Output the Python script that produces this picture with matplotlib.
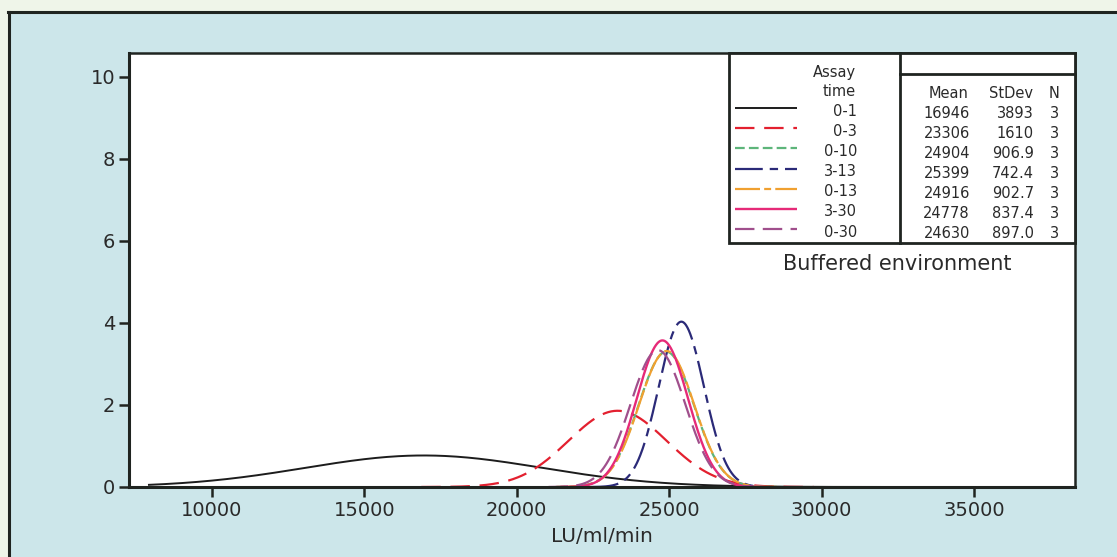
import numpy as np
import matplotlib
matplotlib.use("Agg")
import matplotlib.pyplot as plt
from matplotlib.lines import Line2D

labels = ["0-1", "0-3", "0-10", "3-13", "0-13", "3-30", "0-30"]
means = [16946, 23306, 24904, 25399, 24916, 24778, 24630]
stdevs = [3893, 1610, 906.9, 742.4, 902.7, 837.4, 897.0]
counts = [3, 3, 3, 3, 3, 3, 3]
mean_txt = ["16946", "23306", "24904", "25399", "24916", "24778", "24630"]
sd_txt = ["3893", "1610", "906.9", "742.4", "902.7", "837.4", "897.0"]
bin_width = 2500          # histogram bin width used to scale the fitted normal curves
x_lo_data = 7900          # lowest observed value (left end of the curves)
xticks = [10000, 15000, 20000, 25000, 30000, 35000]
yticks = [0, 2, 4, 6, 8, 10]

# ---- styles ----
colors = ["#1c1c1c", "#e3202f", "#5db57a", "#2b2a78", "#f0a030", "#e62a78", "#a04f8c"]
dashes = [None, (14, 7), (7, 3), (20, 5, 6, 5), (18, 3, 5, 3), None, (14, 6)]
widths = [1.4, 1.6, 1.6, 1.6, 1.6, 1.7, 1.6]

plt.rcParams["lines.scale_dashes"] = False
plt.rcParams["font.family"] = ["DejaVu Sans"]

W, H = 1117, 557
fig = plt.figure(figsize=(W / 100, H / 100), dpi=100)
bg = "#cce6ea"
fig.patch.set_facecolor("#eff5e9")


def fx(px):
    return px / W


def fy(py):
    return 1 - py / H


# blue panel and its border
fig.patches.append(plt.Rectangle((fx(9), 0), 1 - fx(9), fy(12), transform=fig.transFigure,
                                 facecolor=bg, edgecolor="none", zorder=-5))
fig.lines.append(Line2D([fx(9.5), fx(9.5)], [0, fy(12)], transform=fig.transFigure,
                        color="#1f2420", lw=2.2, zorder=-4))
fig.lines.append(Line2D([fx(8), 1], [fy(12), fy(12)], transform=fig.transFigure,
                        color="#1f2420", lw=2.2, zorder=-4))

ax = fig.add_axes([fx(129), 1 - 487 / H, (1075 - 129) / W, (487 - 53) / H])
ax.set_facecolor("white")

x_min, x_max = 7277, 38314
for lab, m, s, n, c, d, lw in zip(labels, means, stdevs, counts, colors, dashes, widths):
    lo = max(m - 4 * s, x_lo_data)
    hi = m + 4 * s
    xs = np.linspace(lo, hi, 400)
    ys = n * bin_width * np.exp(-0.5 * ((xs - m) / s) ** 2) / (s * np.sqrt(2 * np.pi))
    ln, = ax.plot(xs, ys, color=c, lw=lw, solid_capstyle="butt", dash_capstyle="butt")
    if d is not None:
        ln.set_dashes(d)

ax.set_xlim(x_min, x_max)
ax.set_ylim(0, 10.58)
ax.set_xticks(xticks)
ax.set_yticks(yticks)
ax.set_xticklabels([str(t) for t in xticks])
ax.set_yticklabels([str(t) for t in yticks])
for sp in ax.spines.values():
    sp.set_linewidth(2.2)
    sp.set_color("#1f2420")
ax.spines["top"].set_linewidth(1.8)
ax.spines["right"].set_linewidth(1.8)
ax.tick_params(direction="out", length=7, width=1.8, color="#1f2420",
               labelsize=14, labelcolor="#2a2a2a", pad=3)
ax.set_xlabel("LU/ml/min", fontsize=14.5, color="#2a2a2a", labelpad=5)

# ---- legend / stats table box ----
lk = dict(transform=fig.transFigure, color="#1f2420", lw=2.0, zorder=10)
bx0, bx1, bxm, by0, by1 = 729, 1075, 900, 53, 243
fig.patches.append(plt.Rectangle((fx(bx0), fy(by1)), fx(bx1) - fx(bx0), fy(by0) - fy(by1),
                                 transform=fig.transFigure, facecolor="white",
                                 edgecolor="#1f2420", lw=2.0, zorder=9))
fig.lines.append(Line2D([fx(bxm), fx(bxm)], [fy(by0), fy(by1)], **lk))
fig.lines.append(Line2D([fx(bxm), fx(bx1)], [fy(74), fy(74)], **lk))

fs = 10.5
tk = dict(transform=fig.transFigure, color="#2a2a2a", zorder=11, va="center")
fig.text(fx(856), fy(72), "Assay", ha="right", fontsize=fs, **tk)
fig.text(fx(856), fy(91), "time", ha="right", fontsize=fs, **tk)
fig.text(fx(969), fy(93), "Mean", ha="right", fontsize=fs, **tk)
fig.text(fx(1033), fy(93), "StDev", ha="right", fontsize=fs, **tk)
fig.text(fx(1059), fy(93), "N", ha="right", fontsize=fs, **tk)

for i, (lab, c, d, lw) in enumerate(zip(labels, colors, dashes, widths)):
    yt = 111 + i * 20.2
    yl = yt - 3
    ln = Line2D([fx(735), fx(797)], [fy(yl), fy(yl)], transform=fig.transFigure,
                color=c, lw=lw, zorder=11, solid_capstyle="butt", dash_capstyle="butt")
    if d is not None:
        ln.set_dashes(d)
    fig.lines.append(ln)
    fig.text(fx(857), fy(yt), lab, ha="right", fontsize=fs, **tk)
    yr = 113 + i * 20.1
    fig.text(fx(970), fy(yr), mean_txt[i], ha="right", fontsize=fs, **tk)
    fig.text(fx(1034), fy(yr), sd_txt[i], ha="right", fontsize=fs, **tk)
    fig.text(fx(1059), fy(yr), str(counts[i]), ha="right", fontsize=fs, **tk)

fig.text(fx(897), fy(264), "Buffered environment", ha="center", fontsize=15,
         transform=fig.transFigure, color="#2a2a2a", va="center", zorder=11)

fig.savefig("out.png", dpi=100, facecolor=fig.get_facecolor())
